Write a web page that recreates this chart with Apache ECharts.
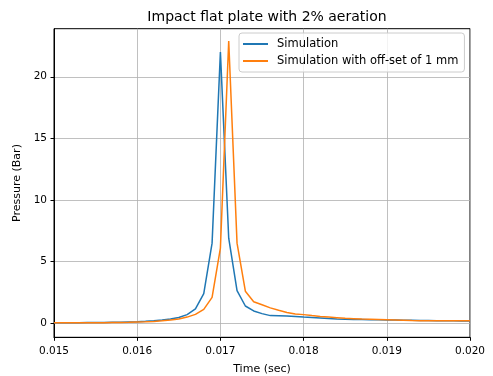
<!DOCTYPE html>
<html>
<head>
<meta charset="utf-8">
<script src="https://cdn.jsdelivr.net/npm/echarts@6/dist/echarts.min.js"></script>
<style>
  html, body { margin: 0; padding: 0; background: #fff; }
  #chart { width: 493px; height: 376px; }
</style>
</head>
<body>
<div id="chart"></div>
<script>
// Sample times (s), one every 0.1 ms
const times = [
  0.0150, 0.0151, 0.0152, 0.0153, 0.0154, 0.0155, 0.0156, 0.0157, 0.0158, 0.0159,
  0.0160, 0.0161, 0.0162, 0.0163, 0.0164, 0.0165, 0.0166, 0.0167, 0.0168, 0.0169,
  0.0170, 0.0171, 0.0172, 0.0173, 0.0174, 0.0175, 0.0176, 0.0177, 0.0178, 0.0179,
  0.0180, 0.0181, 0.0182, 0.0183, 0.0184, 0.0185, 0.0186, 0.0187, 0.0188, 0.0189,
  0.0190, 0.0191, 0.0192, 0.0193, 0.0194, 0.0195, 0.0196, 0.0197, 0.0198, 0.0199,
  0.0200
];

// Pressure (bar) – simulation
const simulation = [
  0.05, 0.05, 0.05, 0.05, 0.06, 0.06, 0.07, 0.08, 0.09, 0.11,
  0.13, 0.16, 0.20, 0.26, 0.34, 0.47, 0.70, 1.16, 2.40, 6.50,
  22.0, 6.90, 2.65, 1.40, 1.00, 0.78, 0.62, 0.60, 0.58, 0.55,
  0.50, 0.46, 0.42, 0.38, 0.35, 0.33, 0.31, 0.30, 0.29, 0.28,
  0.27, 0.26, 0.25, 0.24, 0.23, 0.22, 0.21, 0.20, 0.20, 0.19,
  0.19
];

// Pressure (bar) – simulation with 1 mm off-set
const simulationOffset = [
  0.04, 0.04, 0.04, 0.04, 0.05, 0.05, 0.05, 0.06, 0.07, 0.08,
  0.10, 0.12, 0.15, 0.20, 0.26, 0.35, 0.50, 0.72, 1.13, 2.10,
  6.10, 22.9, 6.50, 2.60, 1.75, 1.50, 1.25, 1.05, 0.88, 0.75,
  0.70, 0.62, 0.55, 0.50, 0.45, 0.40, 0.37, 0.34, 0.32, 0.30,
  0.28, 0.26, 0.24, 0.22, 0.21, 0.21, 0.20, 0.20, 0.20, 0.20,
  0.20
];

const xTicks = [0.015, 0.016, 0.017, 0.018, 0.019, 0.020];
const yTicks = [0, 5, 10, 15, 20];

const seriesNames = ['Simulation', 'Simulation with off-set of 1 mm'];
const seriesColors = ['#1f77b4', '#ff7f0e'];

const FONT = 'DejaVu Sans';

const chart = echarts.init(document.getElementById('chart'), null, { renderer: 'canvas' });

const pairs = (xs, ys) => xs.map((x, i) => [x, ys[i]]);

chart.setOption({
  animation: false,
  backgroundColor: '#ffffff',
  title: {
    text: 'Impact flat plate with 2% aeration',
    left: 262, top: 5, textAlign: 'center',
    textStyle: { fontFamily: FONT, fontSize: 14, fontWeight: 'normal', color: '#000' }
  },
  legend: {
    orient: 'vertical',
    left: 239, top: 33,
    padding: [4, 6, 4, 4],
    itemGap: 3,
    itemWidth: 25, itemHeight: 2,
    icon: 'rect',
    backgroundColor: 'rgba(255,255,255,0.8)',
    borderColor: '#cccccc', borderWidth: 1, borderRadius: 3,
    data: seriesNames,
    textStyle: { fontFamily: FONT, fontSize: 11.5, color: '#000', lineHeight: 14, padding: [0, 0, 0, 4] }
  },
  grid: {
    left: 54, right: 23, top: 28.7, bottom: 38.7,
    outerBoundsMode: 'none', containLabel: false,
    show: true, borderColor: '#000', borderWidth: 1, backgroundColor: 'transparent'
  },
  xAxis: {
    type: 'value',
    min: 0.015, max: 0.020,
    name: 'Time (sec)', nameLocation: 'middle', nameGap: 26,
    nameTextStyle: { fontFamily: FONT, fontSize: 11, color: '#000' },
    axisLine: { show: true, onZero: false, lineStyle: { color: '#000', width: 1 } },
    axisTick: { show: true, length: 3.5, customValues: xTicks, lineStyle: { color: '#000' } },
    axisLabel: { customValues: xTicks, fontFamily: FONT, fontSize: 10.5, color: '#000', margin: 8,
                 formatter: v => v.toFixed(3) },
    splitLine: { show: true, lineStyle: { color: '#b0b0b0', width: 0.8 } }
  },
  yAxis: {
    type: 'value',
    min: -1.14, max: 23.9,
    name: 'Pressure (Bar)', nameLocation: 'middle', nameGap: 27, nameRotate: 90,
    nameTextStyle: { fontFamily: FONT, fontSize: 11, color: '#000' },
    axisLine: { show: true, onZero: false, lineStyle: { color: '#000', width: 1 } },
    axisTick: { show: true, length: 3.5, customValues: yTicks, lineStyle: { color: '#000' } },
    axisLabel: { customValues: yTicks, fontFamily: FONT, fontSize: 10.5, color: '#000', margin: 7 },
    splitLine: { show: true, lineStyle: { color: '#b0b0b0', width: 0.8 } }
  },
  series: [
    {
      name: seriesNames[0], type: 'line', data: pairs(times, simulation),
      showSymbol: false, symbol: 'none',
      lineStyle: { color: seriesColors[0], width: 1.5 }, itemStyle: { color: seriesColors[0] }
    },
    {
      name: seriesNames[1], type: 'line', data: pairs(times, simulationOffset),
      showSymbol: false, symbol: 'none',
      lineStyle: { color: seriesColors[1], width: 1.5 }, itemStyle: { color: seriesColors[1] }
    }
  ]
});
</script>
</body>
</html>
